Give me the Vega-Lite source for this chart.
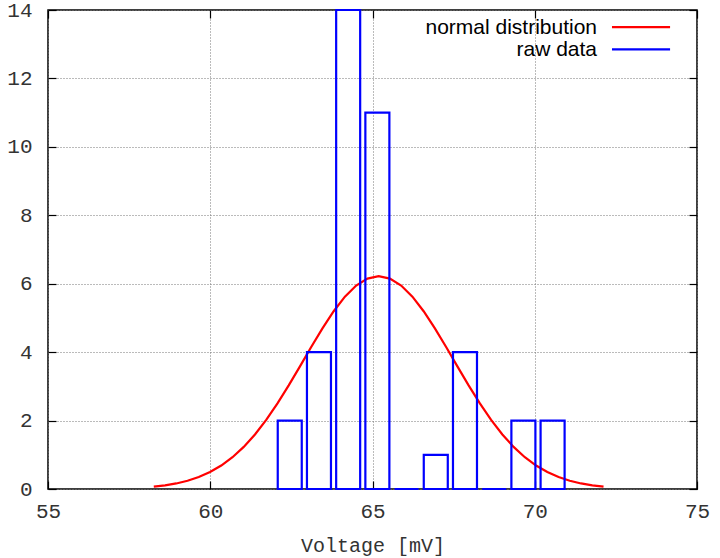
{
  "$schema": "https://vega.github.io/schema/vega-lite/v6.json",
  "width": 649,
  "height": 479,
  "autosize": {"type": "none"},
  "padding": {"left": 48, "top": 10, "right": 23, "bottom": 69},
  "background": "white",
  "config": {
    "view": {"stroke": "#000", "strokeWidth": 1.5},
    "axis": {
      "labelFont": "Liberation Mono",
      "labelFontSize": 21,
      "labelColor": "#333",
      "titleFont": "Liberation Mono",
      "titleFontSize": 20,
      "titleFontWeight": "normal",
      "titleColor": "#333",
      "domain": false,
      "tickColor": "#000",
      "tickWidth": 1.2,
      "gridColor": "#777",
      "gridDash": [1, 2],
      "gridOpacity": 1,
      "gridWidth": 1
    }
  },
  "datasets": {
    "curve": [
      {"v": 58.26, "n": 0.069}, {"v": 58.607, "n": 0.107}, {"v": 58.953, "n": 0.162},
      {"v": 59.3, "n": 0.241}, {"v": 59.646, "n": 0.349}, {"v": 59.993, "n": 0.495},
      {"v": 60.339, "n": 0.686}, {"v": 60.686, "n": 0.929}, {"v": 61.032, "n": 1.231},
      {"v": 61.378, "n": 1.594}, {"v": 61.725, "n": 2.019}, {"v": 62.072, "n": 2.501},
      {"v": 62.418, "n": 3.028}, {"v": 62.765, "n": 3.584}, {"v": 63.111, "n": 4.149},
      {"v": 63.458, "n": 4.695}, {"v": 63.804, "n": 5.195}, {"v": 64.15, "n": 5.621},
      {"v": 64.497, "n": 5.946}, {"v": 64.844, "n": 6.15}, {"v": 65.19, "n": 6.22},
      {"v": 65.537, "n": 6.15}, {"v": 65.883, "n": 5.946}, {"v": 66.23, "n": 5.621},
      {"v": 66.576, "n": 5.195}, {"v": 66.923, "n": 4.695}, {"v": 67.269, "n": 4.149},
      {"v": 67.616, "n": 3.584}, {"v": 67.962, "n": 3.028}, {"v": 68.309, "n": 2.501},
      {"v": 68.655, "n": 2.019}, {"v": 69.002, "n": 1.594}, {"v": 69.348, "n": 1.231},
      {"v": 69.695, "n": 0.929}, {"v": 70.041, "n": 0.686}, {"v": 70.388, "n": 0.495},
      {"v": 70.734, "n": 0.349}, {"v": 71.08, "n": 0.241}, {"v": 71.427, "n": 0.162},
      {"v": 71.774, "n": 0.107}, {"v": 72.12, "n": 0.069}
    ],
    "bins": [
      {"start": 62.08, "end": 62.82, "count": 2},
      {"start": 62.98, "end": 63.72, "count": 4},
      {"start": 63.88, "end": 64.62, "count": 14},
      {"start": 64.78, "end": 65.52, "count": 11},
      {"start": 65.68, "end": 66.42, "count": 0},
      {"start": 66.58, "end": 67.32, "count": 1},
      {"start": 67.48, "end": 68.22, "count": 4},
      {"start": 68.38, "end": 69.12, "count": 0},
      {"start": 69.28, "end": 70.02, "count": 2},
      {"start": 70.18, "end": 70.92, "count": 2}
    ],
    "legend": [
      {"series": "normal distribution"}
    ],
    "legend2": [
      {"series": "raw data"}
    ]
  },
  "resolve": {"axis": {"x": "independent", "y": "independent"}},
  "layer": [
    {
      "data": {"name": "curve"},
      "mark": {"type": "line", "color": "#ff0000", "strokeWidth": 2.2},
      "encoding": {
        "x": {
          "field": "v", "type": "quantitative",
          "scale": {"domain": [55, 75], "nice": false, "zero": false},
          "axis": {"values": [55, 60, 65, 70, 75], "title": "Voltage [mV]", "tickSize": -8, "labelPadding": 19, "titlePadding": 14, "grid": true, "labelFlush": false}
        },
        "y": {
          "field": "n", "type": "quantitative",
          "scale": {"domain": [0, 14], "nice": false},
          "axis": {"values": [0, 2, 4, 6, 8, 10, 12, 14], "title": null, "tickSize": -8, "labelPadding": 24, "grid": true, "labelFlush": false}
        }
      }
    },
    {
      "data": {"name": "bins"},
      "mark": {"type": "rect", "fill": "transparent", "stroke": "#0000ff", "strokeWidth": 2.2},
      "encoding": {
        "x": {
          "field": "start", "type": "quantitative",
          "axis": {"orient": "top", "values": [55, 60, 65, 70, 75], "labels": false, "title": null, "tickSize": -8, "grid": false}
        },
        "x2": {"field": "end"},
        "y": {
          "field": "count", "type": "quantitative",
          "axis": {"orient": "right", "values": [0, 2, 4, 6, 8, 10, 12, 14], "labels": false, "title": null, "tickSize": -8, "grid": false}
        },
        "y2": {"datum": 0}
      }
    },
    {
      "data": {"name": "legend"},
      "layer": [
        {
          "mark": {"type": "rule", "color": "#ff0000", "strokeWidth": 2.2},
          "encoding": {
            "x": {"datum": 72.38, "axis": null},
            "x2": {"datum": 74.17},
            "y": {"datum": 13.5, "axis": null}
          }
        },
        {
          "mark": {"type": "text", "align": "right", "baseline": "middle", "dy": 1, "font": "Liberation Sans", "fontSize": 21, "color": "#000"},
          "encoding": {
            "x": {"datum": 71.92, "axis": null},
            "y": {"datum": 13.5, "axis": null},
            "text": {"field": "series"}
          }
        }
      ]
    },
    {
      "data": {"name": "legend2"},
      "layer": [
        {
          "mark": {"type": "rule", "color": "#0000ff", "strokeWidth": 2.2},
          "encoding": {
            "x": {"datum": 72.38, "axis": null},
            "x2": {"datum": 74.17},
            "y": {"datum": 12.85, "axis": null}
          }
        },
        {
          "mark": {"type": "text", "align": "right", "baseline": "middle", "dy": 1, "font": "Liberation Sans", "fontSize": 21, "color": "#000"},
          "encoding": {
            "x": {"datum": 71.92, "axis": null},
            "y": {"datum": 12.85, "axis": null},
            "text": {"field": "series"}
          }
        }
      ]
    }
  ]
}
